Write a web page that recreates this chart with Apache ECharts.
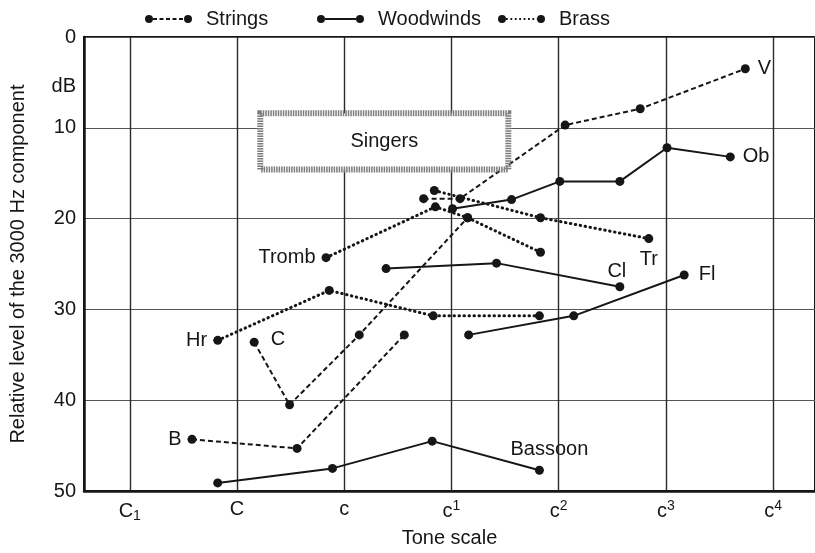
<!DOCTYPE html>
<html>
<head>
<meta charset="utf-8">
<script src="https://cdn.jsdelivr.net/npm/echarts@6/dist/echarts.min.js"></script>
<style>
  html, body { margin: 0; padding: 0; background: #fff; }
  #chart { width: 815px; height: 553px; }
</style>
</head>
<body>
<div id="chart"></div>
<script>
// Tone scale in octaves: C1 = 0, C = 1, c = 2, c1 = 3, c2 = 4, c3 = 5, c4 = 6
const toneTicks = [0, 1, 2, 3, 4, 5, 6];
const toneLabels = ['C{sub|1}', 'C', 'c', 'c{sup|1}', 'c{sup|2}', 'c{sup|3}', 'c{sup|4}'];
const levelTicks = [0, 10, 20, 30, 40, 50];

// [octave position, relative level of the 3000 Hz component in dB]
const violin   = [[2.74, 17.8], [3.08, 17.8], [4.06, 9.7], [4.76, 7.9], [5.74, 3.5]];
const cello    = [[1.16, 33.6], [1.49, 40.5], [2.14, 32.8], [3.15, 19.9]];
const bass     = [[0.58, 44.3], [1.56, 45.3], [2.56, 32.8]];
const horn     = [[0.82, 33.4], [1.86, 27.9], [2.83, 30.7], [3.82, 30.7]];
const trombone = [[1.83, 24.3], [2.85, 18.7], [3.15, 19.9], [3.83, 23.7]];
const trumpet  = [[2.84, 16.9], [3.83, 19.9], [4.84, 22.2]];
const oboe     = [[3.01, 18.9], [3.56, 17.9], [4.01, 15.9], [4.57, 15.9], [5.01, 12.2], [5.60, 13.2]];
const clarinet = [[2.39, 25.5], [3.42, 24.9], [4.57, 27.5]];
const flute    = [[3.16, 32.8], [4.14, 30.7], [5.17, 26.2]];
const bassoon  = [[0.82, 49.1], [1.89, 47.5], [2.82, 44.5], [3.82, 47.7]];

// Range typical of singers' voices
const singersRange = { tone: [1.217, 3.53], level: [8.4, 14.6] };

const families = ['Strings', 'Woodwinds', 'Brass'];

const INK = '#161616';
const FONT = '"Liberation Sans", Arial, Helvetica, sans-serif';

const familyLine = {
  Strings:   { type: [5, 3], width: 2 },
  Woodwinds: { type: 'solid', width: 2 },
  Brass:     { type: [0.5, 4.5], width: 3, cap: 'round' }
};

// Instrument tag drawn beside one of its points
function tagged(points, tag, index, place) {
  return points.map((p, i) => {
    if (i !== index) return p;
    return {
      value: p,
      label: Object.assign({
        show: true, formatter: tag, color: INK, fontSize: 20, fontFamily: FONT
      }, place)
    };
  });
}

function instrument(family, points) {
  return {
    type: 'line',
    name: family,
    data: points,
    symbol: 'circle',
    symbolSize: 9,
    color: INK,
    itemStyle: { color: INK, borderWidth: 0 },
    lineStyle: Object.assign({ color: INK }, familyLine[family]),
    label: { show: false },
    emphasis: { disabled: true },
    animation: false,
    z: 3
  };
}

// Legend icons: a dot at each end joined by the family's line pattern (47 x 8 box)
function legendIcon(segLen, gap, thick) {
  let d = 'M0,4A4,4,0,1,1,8,4A4,4,0,1,1,0,4Z M39,4A4,4,0,1,1,47,4A4,4,0,1,1,39,4Z';
  const y0 = 4 - thick / 2;
  for (let x = 8; x < 39; x += segLen + gap) {
    const w = Math.min(segLen, 39 - x);
    d += ` M${x},${y0}h${w}v${thick}h${-w}Z`;
  }
  return 'path://' + d;
}
const legendIcons = {
  Strings: legendIcon(4, 2.5, 1.8),
  Woodwinds: legendIcon(31, 0, 2),
  Brass: legendIcon(1.8, 2.6, 1.8)
};
const legendLeft = { Strings: 140, Woodwinds: 312, Brass: 493 };

const series = [
  instrument('Strings', tagged(violin, 'V', 4, { position: 'right', distance: 8 })),
  instrument('Strings', tagged(cello, 'C', 0, { position: 'right', distance: 12, offset: [0, -3] })),
  instrument('Strings', tagged(bass, 'B', 0, { position: 'left', distance: 6 })),
  instrument('Woodwinds', tagged(oboe, 'Ob', 5, { position: 'right', distance: 8 })),
  instrument('Woodwinds', tagged(clarinet, 'Cl', 2, { position: 'top', distance: 1, offset: [-3, 0] })),
  instrument('Woodwinds', tagged(flute, 'Fl', 2, { position: 'right', distance: 10 })),
  instrument('Woodwinds', tagged(bassoon, 'Bassoon', 3, { position: 'top', distance: 6, offset: [10, 0] })),
  instrument('Brass', tagged(horn, 'Hr', 0, { position: 'left', distance: 6 })),
  instrument('Brass', tagged(trombone, 'Tromb', 0, { position: 'left', distance: 6 })),
  instrument('Brass', tagged(trumpet, 'Tr', 2, { position: 'bottom', distance: 6 })),
  {
    type: 'line',
    name: 'singers',
    data: [],
    silent: true,
    animation: false,
    markArea: {
      silent: true,
      z: 4,
      itemStyle: {
        color: '#ffffff',
        borderColor: '#7c7c7c',
        borderWidth: 6,
        borderType: [1.5, 1]
      },
      label: {
        show: true,
        position: 'inside',
        formatter: 'Singers',
        color: INK,
        fontSize: 20,
        fontFamily: FONT
      },
      data: [[
        { coord: [singersRange.tone[0], singersRange.level[0]] },
        { coord: [singersRange.tone[1], singersRange.level[1]] }
      ]]
    }
  }
];

const chart = echarts.init(document.getElementById('chart'), null, { renderer: 'canvas' });

chart.setOption({
  backgroundColor: '#ffffff',
  animation: false,
  textStyle: { fontFamily: FONT },
  legend: families.map(f => ({
    data: [{ name: f, icon: legendIcons[f] }],
    left: legendLeft[f],
    top: 4,
    itemWidth: 47,
    itemHeight: 8,
    selectedMode: false,
    itemStyle: { color: INK, borderWidth: 0 },
    textStyle: { color: INK, fontSize: 20, fontFamily: FONT, padding: [0, 0, 0, 9] }
  })),
  grid: {
    left: 84, right: -3, top: 37, bottom: 58,
    show: true, borderColor: INK, borderWidth: 2, backgroundColor: 'transparent'
  },
  xAxis: {
    type: 'value',
    min: -0.427,
    max: 6.39,
    name: 'Tone scale',
    nameLocation: 'middle',
    nameGap: 34,
    nameTextStyle: { color: INK, fontSize: 20, fontFamily: FONT },
    axisLine: { show: true, onZero: false, lineStyle: { color: INK, width: 2.5 } },
    axisTick: { show: false, customValues: toneTicks },
    axisLabel: {
      customValues: toneTicks,
      margin: 8,
      color: INK,
      fontSize: 20,
      fontFamily: FONT,
      formatter: v => toneLabels[toneTicks.indexOf(Math.round(v))],
      rich: {
        sub: { fontSize: 14, fontFamily: FONT, color: INK, verticalAlign: 'bottom', padding: [10, 0, 0, 0] },
        sup: { fontSize: 14, fontFamily: FONT, color: INK, verticalAlign: 'top', padding: [0, 0, 10, 0] }
      }
    },
    splitLine: { show: true, lineStyle: { color: '#2a2a2a', width: 1.4 } }
  },
  yAxis: {
    type: 'value',
    inverse: true,
    min: 0,
    max: 50,
    interval: 10,
    name: 'Relative level of the 3000 Hz component',
    nameLocation: 'middle',
    nameGap: 56,
    nameTextStyle: { color: INK, fontSize: 20, fontFamily: FONT },
    axisLine: { show: true, onZero: false, lineStyle: { color: INK, width: 2.5 } },
    axisTick: { show: false },
    axisLabel: {
      margin: 8, color: INK, fontSize: 20, fontFamily: FONT,
      formatter: v => levelTicks.includes(v) ? String(v) : ''
    },
    splitLine: { show: true, lineStyle: { color: '#555555', width: 1.2 } }
  },
  graphic: [{
    type: 'text',
    x: 76,
    y: 86,
    style: {
      text: 'dB', fill: INK, fontSize: 20, fontFamily: FONT,
      textAlign: 'right', textVerticalAlign: 'middle'
    }
  }],
  series: series
});
</script>
</body>
</html>
